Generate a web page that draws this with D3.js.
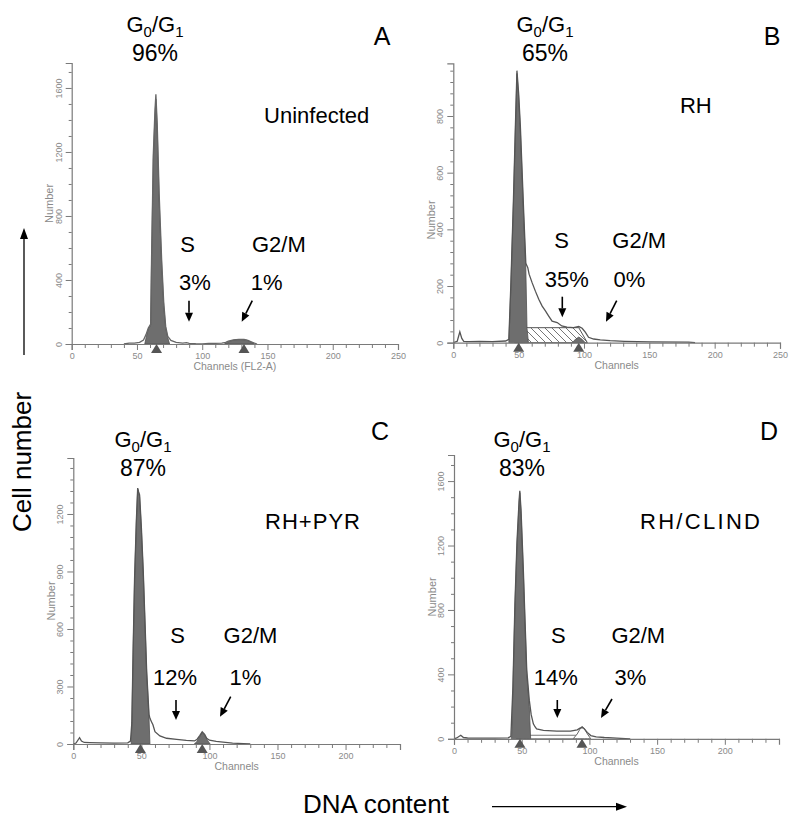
<!DOCTYPE html>
<html><head><meta charset="utf-8">
<script src="https://cdn.jsdelivr.net/npm/d3@7"></script>
<style>
html,body{margin:0;padding:0;background:#fff;}
svg{display:block;font-family:"Liberation Sans",Arial,sans-serif;}
</style></head>
<body>
<svg id="chart" width="800" height="827"></svg>
<script>
// ---------------- DATA ----------------
const panelIds = ["A", "B", "C", "D"];
const conditionLabels = ["Uninfected", "RH", "RH+PYR", "RH/CLIND"];
const g1Percent = ["96%", "65%", "87%", "83%"];
const sPercent = ["3%", "35%", "12%", "14%"];
const g2Percent = ["1%", "0%", "1%", "3%"];
const xAxisTitles = ["Channels  (FL2-A)", "Channels", "Channels", "Channels"];

const yTicksA = [0, 400, 800, 1200, 1600];
const yTicksB = [0, 200, 400, 600, 800];
const yTicksC = [0, 300, 600, 900, 1200];
const yTicksD = [0, 400, 800, 1200, 1600];
const xTicksAB = [0, 50, 100, 150, 200, 250];
const xTicksCD = [0, 50, 100, 150, 200];

// [channel, count]
const obsA = [[40,0],[44,6],[48,5],[52,10],[55,25],[57,60],[58.7,100],[60.5,125],[61.2,540],[62.5,1180],[63.8,1460],[64.5,1560],[65.5,1380],[67,940],[68.9,530],[70.5,260],[72,110],[73.6,48],[76,22],[80,10],[85,6],[88,9],[90,4],[95,2],[100,1],[105,3],[110,4],[115,6],[118,10],[120,18],[124,25],[128,29],[132,28],[135,22],[138,12],[140,5],[142,0]];
const g1A = [[56,0],[57,40],[58.7,95],[60.5,118],[61.2,525],[62.5,1150],[63.8,1430],[64.5,1530],[65.5,1350],[67,900],[68.9,500],[70.5,240],[72,100],[73.6,40],[75,0]];
const g2A = [[117,0],[119,10],[122,20],[125,26],[128,28],[131,27],[134,24],[137,14],[140,0]];

const obsB = [[0,0],[3,5],[5,38],[6.5,15],[8,5],[12,4],[20,5],[30,4],[40,6],[42.5,12],[44,200],[46,500],[47.5,760],[48.7,960],[50,880],[51.3,766],[53.8,468],[55.5,280],[57,265],[58,242],[60.3,212],[62.8,182],[65.4,153],[68,129],[70.5,112],[73,94],[75.6,76],[79.5,71],[83,59],[87,55],[92,53],[96,57],[98.6,51],[101,37],[103.5,19],[107.4,13],[112.5,10],[120,7],[131,5],[151,3],[180,2],[185,0]];
const g1B = [[42.5,0],[44,190],[46,490],[47.5,750],[48.7,950],[50,870],[51.3,750],[53.8,450],[55.5,260],[56.4,51],[57.5,0]];
const sB = [[47,0],[56.4,53],[96,53],[102.6,0]];
const g2B = [[91,0],[93.5,12],[96,20],[98.5,12],[101,0]];

const obsC = [[0,0],[2,5],[4.6,33],[6,15],[8,8],[12,7],[20,6],[30,5],[40,6],[42,15],[43,110],[44,510],[45,860],[46.3,1160],[47.3,1335],[48,1315],[48.7,1300],[50,1130],[51.4,900],[53.9,380],[55.6,155],[56.3,134],[57.5,115],[58.5,100],[60,64],[63.6,42],[68.5,30],[75.9,24],[83,19],[89,16],[91,25],[93,45],[94.7,64],[96.5,50],[98,30],[100,20],[105,14],[110,10],[117,5],[125,2],[130,0]];
const g1C = [[42.5,0],[43,100],[44,500],[45,850],[46.3,1150],[47.3,1330],[48,1310],[48.7,1290],[50,1120],[51.4,890],[53.9,370],[55.6,140],[56.3,0]];
const g2C = [[89,0],[91,15],[93,40],[94.7,62],[96.5,45],[98.5,20],[100.5,0]];

const obsD = [[0,0],[2,5],[5,22],[7,8],[10,5],[20,4],[30,4],[40,6],[42,15],[43.5,320],[45,840],[46.5,1220],[48,1470],[48.6,1540],[49.5,1420],[51.2,1050],[52.5,720],[53.7,430],[55.6,240],[57,150],[58.6,93],[59.8,75],[61,62],[66,52],[76,48],[86,48],[91,56],[93,66],[94.6,70],[96,64],[98.4,40],[101,20],[105,12],[111,8],[120,4],[130,0]];
const g1D = [[42.5,0],[43.5,300],[45,820],[46.5,1200],[48,1450],[48.6,1528],[49.5,1400],[51.2,1028],[52.5,700],[53.7,407],[55.6,200],[56.6,0]];
const sD = [[46,0],[56,22],[92,22],[100,0]];
const g2D = [[88,0],[91,30],[93,60],[94.6,78],[96.5,60],[98.5,30],[101,0]];

const markersA = [65, 132];
const markersB = [50, 96];
const markersC = [49.3, 94.7];
const markersD = [48.7, 94.5];

// ---------------- LAYOUT ----------------
const layout = {
  A: {xl:71.7, xr:398, xMax:250, yb:344, yt:63, yMax:1756, minor:100, yTicks:yTicksA, xTicks:xTicksAB,
      obs:obsA, g1:g1A, g2:g2A, s:null, sHatch:false, markers:markersA,
      letter:[382,45], g1Lab:[155,31.5], cond:[316.7,123.3], sLab:[187.5,251.7], g2Lab:[278.9,251.7],
      sPct:[195,290], g2Pct:[266.7,290], arrS:[[189,300.7],[189,321.7]], arrG2:[[252.3,300.7],[241.7,321.7]],
      condLen:null, numY:null, obsColor:"#666"},
  B: {xl:453.3, xr:780, xMax:250, yb:342.7, yt:63.3, yMax:986, minor:40, yTicks:yTicksB, xTicks:xTicksAB,
      obs:obsB, g1:g1B, g2:g2B, s:sB, sHatch:true, markers:markersB,
      letter:[772,45], g1Lab:[545,31.5], cond:[695.8,112.7], sLab:[561.7,248.3], g2Lab:[639.2,248.3],
      sPct:[566.7,286.7], g2Pct:[629.5,286.7], arrS:[[562.3,296.7],[562.3,317.3]], arrG2:[[616.7,300.7],[606,321.7]],
      condLen:null, numY:220, obsColor:"#555"},
  C: {xl:73.3, xr:400, xMax:240, yb:744, yt:458, yMax:1492, minor:60, yTicks:yTicksC, xTicks:xTicksCD,
      obs:obsC, g1:g1C, g2:g2C, s:null, sHatch:false, markers:markersC,
      letter:[380,440], g1Lab:[143,447], cond:[312.5,529.3], sLab:[177.5,643.3], g2Lab:[250.5,643.3],
      sPct:[175,685], g2Pct:[245.4,685], arrS:[[176,700],[176,720]], arrG2:[[230.7,696.7],[220,716.7]],
      condLen:95, numY:null, obsColor:"#555"},
  D: {xl:454, xr:779, xMax:240, yb:738.8, yt:455, yMax:1762, minor:100, yTicks:yTicksD, xTicks:xTicksCD,
      obs:obsD, g1:g1D, g2:g2D, s:sD, sHatch:false, markers:markersD,
      letter:[769,440], g1Lab:[522,447], cond:[700,529.3], sLab:[558.3,643.3], g2Lab:[638.3,643.3],
      sPct:[555.8,685], g2Pct:[630.3,685], arrS:[[557.3,700],[557.3,718]], arrG2:[[612,699],[601,718]],
      condLen:120, numY:null, obsColor:"#555"}
};

const svg = d3.select("#chart");
const defs = svg.append("defs");
const pat = defs.append("pattern").attr("id","hatch").attr("patternUnits","userSpaceOnUse")
  .attr("width",7).attr("height",7);
pat.append("rect").attr("width",7).attr("height",7).attr("fill","#fff");
pat.append("path").attr("d","M0,0 L7,7 M-1,6 L1,8 M6,-1 L8,1").attr("stroke","#666").attr("stroke-width",0.9);

const AXIS = "#7a7a7a", TICKTXT = "#8a8a8a", FILL = "#6e6e6e", FILLSTROKE = "#505050";

function arrow(g, p0, p1) {
  const [x0,y0] = p0, [x1,y1] = p1;
  const ang = Math.atan2(y1-y0, x1-x0);
  const L = 9, W = 4;
  const bx = x1 - L*Math.cos(ang), by = y1 - L*Math.sin(ang);
  g.append("line").attr("x1",x0).attr("y1",y0).attr("x2",bx).attr("y2",by)
    .attr("stroke","#000").attr("stroke-width",1.6);
  const px = -Math.sin(ang)*W, py = Math.cos(ang)*W;
  g.append("path").attr("d",`M${x1},${y1}L${bx+px},${by+py}L${bx-px},${by-py}Z`).attr("fill","#000");
}

panelIds.forEach((id, i) => {
  const L = layout[id];
  const g = svg.append("g");
  const x = d3.scaleLinear().domain([0, L.xMax]).range([L.xl, L.xr]);
  const y = d3.scaleLinear().domain([0, L.yMax]).range([L.yb, L.yt]);
  const line = d3.line().x(d => x(d[0])).y(d => y(d[1]));
  const area = d3.area().x(d => x(d[0])).y0(y(0)).y1(d => y(d[1]));

  // S-phase model
  if (L.s) {
    g.append("path").datum(L.s).attr("d", area)
      .attr("fill", L.sHatch ? "url(#hatch)" : "none")
      .attr("stroke", L.sHatch ? "#555" : "#777").attr("stroke-width", 1);
  }
  // G1 model fill
  g.append("path").datum(L.g1).attr("d", area).attr("fill", FILL).attr("stroke", FILLSTROKE).attr("stroke-width", 0.8);
  // G2 model
  if (id === "D") {
    g.append("path").datum(L.g2).attr("d", area).attr("fill", "#fff").attr("stroke", "#666").attr("stroke-width", 1);
  } else {
    g.append("path").datum(L.g2).attr("d", area).attr("fill", FILL).attr("stroke", FILLSTROKE).attr("stroke-width", 0.8);
  }
  // observed histogram
  g.append("path").datum(L.obs).attr("d", line).attr("fill", "none")
    .attr("stroke", L.obsColor).attr("stroke-width", 1.3);

  // axes
  const ax = g.append("g").attr("transform", `translate(0,${L.yb})`)
    .call(d3.axisBottom(x).tickValues(L.xTicks).tickSize(6).tickFormat(d3.format("d")));
  const axMinor = g.append("g").attr("transform", `translate(0,${L.yb})`)
    .call(d3.axisBottom(x).tickValues(d3.range(0, L.xMax + 0.1, 10).filter(v => v % 50 !== 0)).tickSize(4).tickFormat(""));
  const ay = g.append("g").attr("transform", `translate(${L.xl},0)`)
    .call(d3.axisLeft(y).tickValues(L.yTicks).tickSize(6).tickFormat(d3.format("d")));
  const ayMinor = g.append("g").attr("transform", `translate(${L.xl},0)`)
    .call(d3.axisLeft(y).tickValues(d3.range(0, L.yMax, L.minor).filter(v => !L.yTicks.includes(v))).tickSize(3).tickFormat(""));
  [ax, axMinor, ay, ayMinor].forEach(a => {
    a.select(".domain").attr("stroke", AXIS).attr("stroke-width", 1.2);
    a.selectAll(".tick line").attr("stroke", AXIS).attr("stroke-width", 1);
  });
  axMinor.select(".domain").remove();
  ayMinor.select(".domain").remove();
  ax.selectAll(".tick text").attr("fill", TICKTXT).attr("font-size", 9)
    .attr("font-family", "Liberation Sans, Arial, sans-serif").attr("y", 9);
  ay.selectAll(".tick text").attr("fill", TICKTXT).attr("font-size", 9)
    .attr("font-family", "Liberation Sans, Arial, sans-serif")
    .attr("transform", "rotate(-90)").attr("x", 0).attr("y", -10).attr("dy", 0).attr("text-anchor", "middle");

  // phase markers
  L.markers.forEach(c => {
    const cx = x(c);
    g.append("path").attr("d", `M${cx},${L.yb}L${cx-5.5},${L.yb+9}L${cx+5.5},${L.yb+9}Z`).attr("fill", "#555");
  });

  // axis titles
  g.append("text").attr("x", x(L.xMax / 2)).attr("y", L.yb + 26).attr("text-anchor", "middle")
    .attr("font-size", 10.5).attr("fill", TICKTXT).text(xAxisTitles[i]);
  const ny = L.numY !== null ? L.numY : (L.yb + L.yt) / 2;
  g.append("text").attr("transform", `translate(${L.xl - 18.5},${ny}) rotate(-90)`).attr("text-anchor", "middle")
    .attr("font-size", 11).attr("fill", TICKTXT).text("Number");

  // annotations
  g.append("text").attr("x", L.letter[0]).attr("y", L.letter[1]).attr("text-anchor", "middle")
    .attr("font-size", 25).attr("fill", "#000").text(id);
  const gt = g.append("text").attr("x", L.g1Lab[0]).attr("y", L.g1Lab[1]).attr("text-anchor", "middle")
    .attr("font-size", 22).attr("fill", "#000");
  gt.append("tspan").text("G");
  gt.append("tspan").attr("dy", 5).attr("font-size", 15).text("0");
  gt.append("tspan").attr("dy", -5).text("/G");
  gt.append("tspan").attr("dy", 5).attr("font-size", 15).text("1");
  g.append("text").attr("x", L.g1Lab[0]).attr("y", L.g1Lab[1] + 29).attr("text-anchor", "middle")
    .attr("font-size", 23).text(g1Percent[i]);

  const ct = g.append("text").attr("x", L.cond[0]).attr("y", L.cond[1]).attr("text-anchor", "middle")
    .attr("font-size", 22).text(conditionLabels[i]);
  if (L.condLen) ct.attr("textLength", L.condLen).attr("lengthAdjust", "spacing");

  g.append("text").attr("x", L.sLab[0]).attr("y", L.sLab[1]).attr("text-anchor", "middle").attr("font-size", 22).text("S");
  g.append("text").attr("x", L.g2Lab[0]).attr("y", L.g2Lab[1]).attr("text-anchor", "middle").attr("font-size", 22).text("G2/M");
  g.append("text").attr("x", L.sPct[0]).attr("y", L.sPct[1]).attr("text-anchor", "middle").attr("font-size", 22).text(sPercent[i]);
  g.append("text").attr("x", L.g2Pct[0]).attr("y", L.g2Pct[1]).attr("text-anchor", "middle").attr("font-size", 22).text(g2Percent[i]);
  arrow(g, L.arrS[0], L.arrS[1]);
  arrow(g, L.arrG2[0], L.arrG2[1]);
});

// global axis titles
svg.append("text").attr("transform", "translate(31,462) rotate(-90)").attr("text-anchor", "middle")
  .attr("font-size", 26).text("Cell number");
svg.append("text").attr("x", 376).attr("y", 813).attr("text-anchor", "middle")
  .attr("font-size", 26).text("DNA content");
(function () {
  const g = svg.append("g");
  g.append("line").attr("x1", 24).attr("y1", 355).attr("x2", 24).attr("y2", 238).attr("stroke", "#000").attr("stroke-width", 1.3);
  g.append("path").attr("d", "M24,228L20,239L28,239Z").attr("fill", "#000");
  g.append("line").attr("x1", 492).attr("y1", 806.7).attr("x2", 617).attr("y2", 806.7).attr("stroke", "#000").attr("stroke-width", 1.3);
  g.append("path").attr("d", "M627,806.7L616,802.7L616,810.7Z").attr("fill", "#000");
})();
</script>
</body></html>
